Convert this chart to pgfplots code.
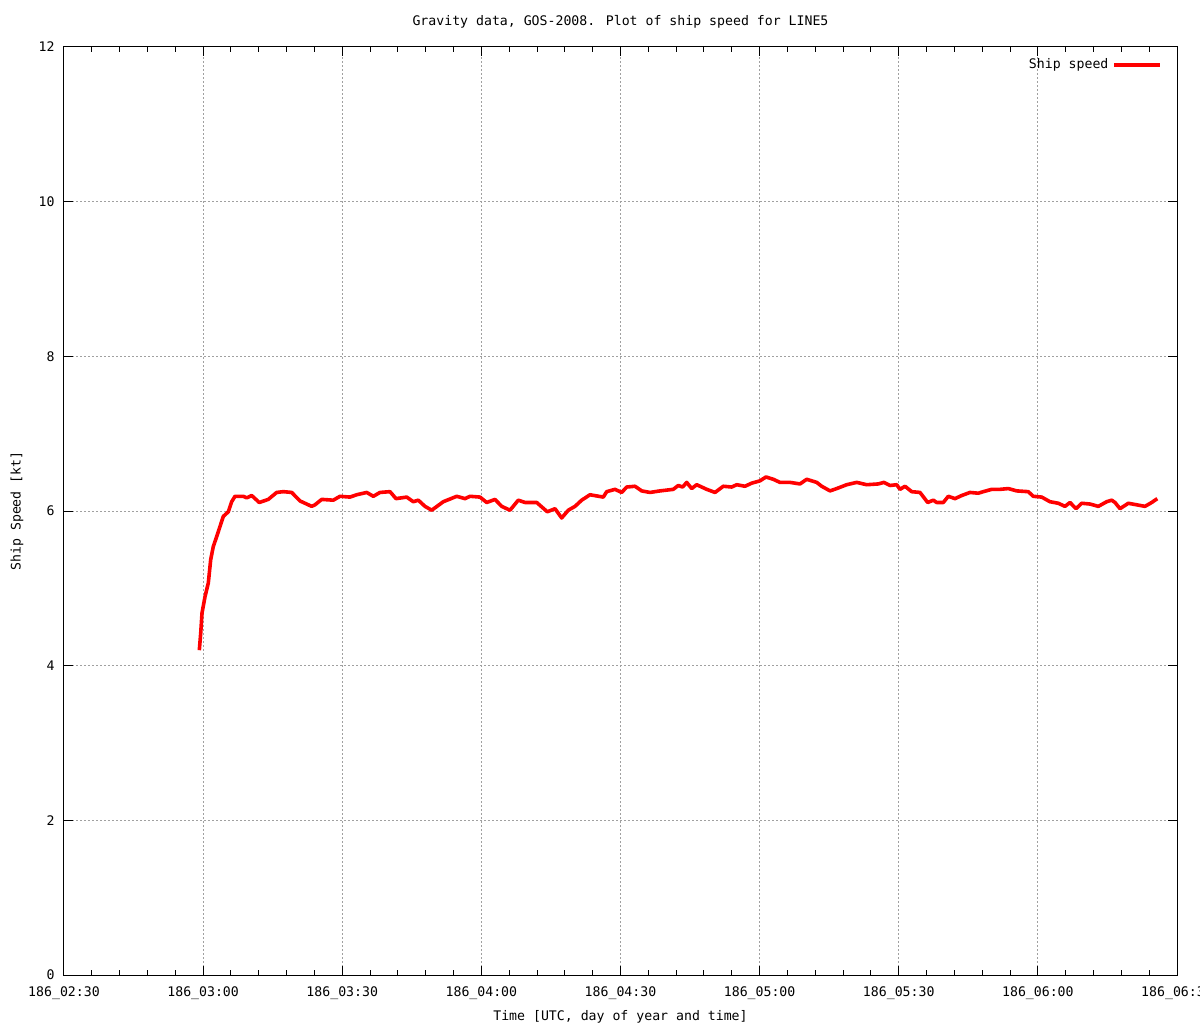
\documentclass[border=0pt]{standalone}
\usepackage{pgfplots}
\pgfplotsset{compat=1.18}
\usepackage{fontspec}
\setmainfont{DejaVu Sans Mono}
\definecolor{gridgray}{HTML}{A0A0A0}
\newcommand{\gfont}{\fontsize{6.6}{8}\selectfont}

% ship speed [kt] vs minutes after 186_02:30
\pgfplotstableread{
t speed
29.18 4.20
29.48 4.42
29.76 4.68
30.40 4.89
31.12 5.07
31.63 5.37
32.19 5.54
32.93 5.67
33.64 5.80
34.35 5.93
35.43 5.99
36.16 6.12
36.87 6.19
38.66 6.19
39.40 6.17
40.47 6.20
42.11 6.11
44.05 6.15
45.86 6.24
47.29 6.25
49.10 6.24
50.89 6.13
53.41 6.06
54.12 6.08
55.57 6.15
58.07 6.14
59.51 6.19
61.67 6.18
63.11 6.21
65.27 6.24
66.70 6.19
68.14 6.24
70.30 6.25
71.59 6.16
73.90 6.18
75.32 6.12
76.40 6.14
77.84 6.06
79.29 6.01
81.79 6.12
84.68 6.19
86.47 6.16
87.55 6.19
89.70 6.18
91.15 6.11
92.94 6.15
94.38 6.06
96.17 6.01
97.96 6.14
99.41 6.11
101.93 6.11
104.22 5.99
105.88 6.03
107.32 5.91
108.74 6.01
110.19 6.06
111.63 6.14
113.42 6.21
116.29 6.18
117.02 6.25
118.81 6.28
120.26 6.24
121.34 6.31
123.13 6.32
124.57 6.26
126.36 6.24
128.52 6.26
131.38 6.28
132.46 6.33
133.41 6.31
134.27 6.37
135.35 6.29
136.43 6.34
138.59 6.28
140.38 6.24
142.17 6.32
143.98 6.31
145.06 6.34
146.85 6.32
148.29 6.36
150.08 6.39
151.37 6.44
152.95 6.41
154.39 6.37
156.55 6.37
158.71 6.35
160.15 6.41
162.31 6.37
163.38 6.32
165.18 6.26
166.62 6.29
168.78 6.34
170.93 6.37
173.09 6.34
175.59 6.35
176.82 6.37
178.11 6.33
179.56 6.34
180.27 6.28
181.35 6.32
182.79 6.25
184.58 6.24
186.24 6.11
187.45 6.14
188.18 6.11
189.61 6.11
190.68 6.19
192.13 6.16
193.57 6.20
195.36 6.24
197.15 6.23
198.23 6.25
200.04 6.28
201.83 6.28
203.62 6.29
205.43 6.26
207.93 6.25
209.01 6.19
210.82 6.18
212.61 6.12
214.40 6.10
215.85 6.06
216.93 6.11
218.22 6.03
219.45 6.10
221.24 6.09
223.03 6.06
224.84 6.12
225.92 6.14
226.63 6.11
227.71 6.03
229.50 6.10
231.31 6.08
233.10 6.06
234.54 6.11
235.75 6.16
}\speedtable

\begin{document}
\begin{tikzpicture}
\useasboundingbox (-32pt,-24.5pt) rectangle (568pt,487.5pt);
\begin{axis}[
    at={(0,0)}, anchor=south west,
    scale only axis,
    width=556.5pt, height=464pt,
    xmin=0, xmax=240, ymin=0, ymax=12,
    xtick={0,30,...,240},
    xticklabels={186\_02:30,186\_03:00,186\_03:30,186\_04:00,186\_04:30,186\_05:00,186\_05:30,186\_06:00,186\_06:30},
    minor x tick num=4,
    ytick={0,2,...,12},
    tick align=inside,
    major tick length=4.5pt,
    minor tick length=2.3pt,
    every tick/.style={black, line width=0.5pt},
    axis line style={black, line width=0.5pt},
    grid=major,
    major grid style={gridgray, line width=0.5pt, dash pattern=on 1pt off 1pt},
    /pgf/number format/assume math mode=true,
    tick label style={font=\gfont},
    xticklabel style={anchor=center, yshift=-9pt},
    yticklabel style={anchor=east, inner sep=0pt, xshift=-4.5pt},
    label style={font=\gfont},
    title={Gravity data, GOS-2008. Plot of ship speed for LINE5},
    title style={font=\gfont, at={(axis description cs:0.5,1)}, anchor=center, yshift=6.5pt},
    xlabel={Time [UTC, day of year and time]},
    xlabel style={at={(axis description cs:0.5,0)}, anchor=center, yshift=-21pt},
    ylabel={Ship Speed [kt]},
    ylabel style={at={(axis description cs:-0.0422,0.5)}, anchor=center},
    legend style={draw=none, fill=none, font=\gfont, at={(axis description cs:0.9865,0.9806)}, anchor=east, inner sep=0pt},
    legend cell align=right,
    legend plot pos=right,
    legend image code/.code={\draw[#1] (0cm,0cm) -- (0.8cm,0cm);},
]
\addplot[red, line width=1.8pt, line join=round] table[x=t, y=speed] {\speedtable};
\legend{Ship speed}
\end{axis}
\end{tikzpicture}
\end{document}
